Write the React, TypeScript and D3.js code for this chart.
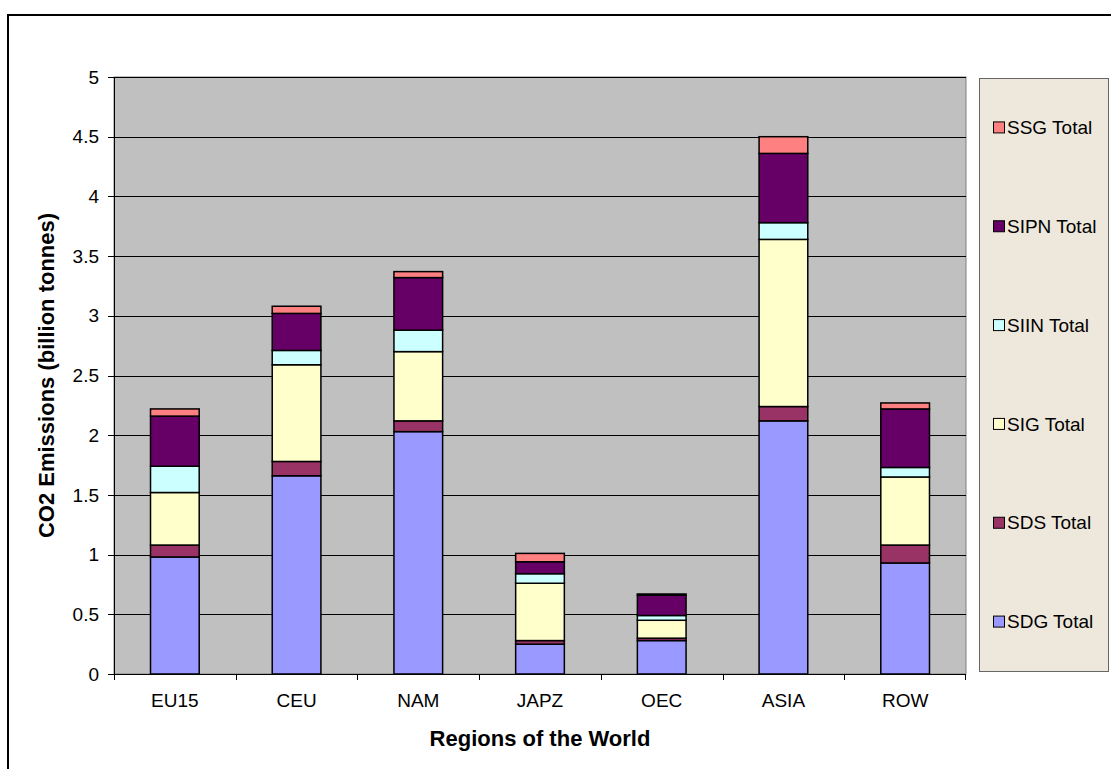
import React from 'react';
import * as d3 from 'd3';

// regions on the x axis
const regions = ['EU15', 'CEU', 'NAM', 'JAPZ', 'OEC', 'ASIA', 'ROW'];

// series values, billion tonnes (bottom to top of each stack)
const sdgTotal = [0.98, 1.66, 2.03, 0.25, 0.28, 2.12, 0.93];
const sdsTotal = [0.1, 0.12, 0.09, 0.03, 0.02, 0.12, 0.15];
const sigTotal = [0.44, 0.81, 0.58, 0.48, 0.15, 1.4, 0.57];
const siinTotal = [0.22, 0.12, 0.18, 0.08, 0.04, 0.14, 0.08];
const sipnTotal = [0.42, 0.31, 0.44, 0.1, 0.17, 0.58, 0.49];
const ssgTotal = [0.06, 0.06, 0.05, 0.07, 0.01, 0.14, 0.05];

const seriesNames = ['SDG Total', 'SDS Total', 'SIG Total', 'SIIN Total', 'SIPN Total', 'SSG Total'];
const seriesValues = [sdgTotal, sdsTotal, sigTotal, siinTotal, sipnTotal, ssgTotal];
const seriesColors = ['#9999ff', '#993366', '#ffffcc', '#ccffff', '#660066', '#ff8080'];

const yTicks = [0, 0.5, 1, 1.5, 2, 2.5, 3, 3.5, 4, 4.5, 5];

const font = 'Liberation Sans, Arial, sans-serif';

export default function App() {
  const plot = { left: 114, top: 77, right: 966, bottom: 674 };

  const x = d3
    .scaleBand()
    .domain(regions)
    .range([plot.left, plot.right])
    .paddingInner(0.6)
    .paddingOuter(0.3);
  const step = x.step();

  const y = d3.scaleLinear().domain([0, 5]).range([plot.bottom, plot.top]);

  // table for the stack
  const table = regions.map((r, i) => {
    const row: any = { region: r };
    seriesNames.forEach((s, j) => (row[s] = seriesValues[j][i]));
    return row;
  });
  const stacked = d3.stack().keys(seriesNames)(table);

  const legend = { x: 979, y: 78, w: 129, h: 593 };
  const slot = legend.h / seriesNames.length;
  const legendOrder = seriesNames.slice().reverse();

  return (
    <svg
      width={1111}
      height={769}
      style={{ position: 'absolute', left: 0, top: 0, background: '#fff' }}
      fontFamily={font}
    >
      {/* chart border */}
      <rect x={8} y={15} width={1200} height={1000} fill="#fff" stroke="#000" strokeWidth={2} />

      {/* plot area */}
      <rect
        x={plot.left}
        y={plot.top}
        width={plot.right - plot.left}
        height={plot.bottom - plot.top}
        fill="#c0c0c0"
        stroke="#808080"
        strokeWidth={1}
      />
      {yTicks.slice(1).map((t) => (
        <line
          key={'g' + t}
          x1={plot.left}
          x2={plot.right}
          y1={Math.round(y(t)) + 0.5}
          y2={Math.round(y(t)) + 0.5}
          stroke="#000"
          strokeWidth={1}
        />
      ))}

      {/* bars */}
      {stacked.map((layer, j) => (
        <g key={layer.key} fill={seriesColors[j]} stroke="#000" strokeWidth={1.5}>
          {layer.map((d, i) => (
            <rect
              key={regions[i]}
              x={x(regions[i])}
              y={y(d[1])}
              width={x.bandwidth()}
              height={y(d[0]) - y(d[1])}
            />
          ))}
        </g>
      ))}

      {/* y axis */}
      <line x1={plot.left + 0.5} x2={plot.left + 0.5} y1={plot.top} y2={plot.bottom} stroke="#000" />
      {yTicks.map((t) => (
        <g key={'y' + t}>
          <line
            x1={plot.left - 6}
            x2={plot.left}
            y1={Math.round(y(t)) + 0.5}
            y2={Math.round(y(t)) + 0.5}
            stroke="#000"
          />
          <text x={99} y={y(t)} dy="0.35em" textAnchor="end" fontSize={19} fill="#000">
            {String(t)}
          </text>
        </g>
      ))}

      {/* x axis */}
      <line x1={plot.left} x2={plot.right} y1={plot.bottom + 0.5} y2={plot.bottom + 0.5} stroke="#000" />
      {regions.map((r, i) => (
        <line
          key={'xt' + r}
          x1={Math.round(plot.left + i * step) + 0.5}
          x2={Math.round(plot.left + i * step) + 0.5}
          y1={plot.bottom}
          y2={plot.bottom + 6}
          stroke="#000"
        />
      ))}
      <line
        x1={plot.right - 0.5}
        x2={plot.right - 0.5}
        y1={plot.bottom}
        y2={plot.bottom + 6}
        stroke="#000"
      />
      {regions.map((r) => (
        <text
          key={'xl' + r}
          x={(x(r) as number) + x.bandwidth() / 2}
          y={707}
          textAnchor="middle"
          fontSize={19}
          fill="#000"
        >
          {r}
        </text>
      ))}

      {/* axis titles */}
      <text
        x={(plot.left + plot.right) / 2}
        y={746}
        textAnchor="middle"
        fontSize={22}
        fontWeight="bold"
        fill="#000"
      >
        Regions of the World
      </text>
      <text
        transform={`translate(54,${(plot.top + plot.bottom) / 2}) rotate(-90)`}
        textAnchor="middle"
        fontSize={22}
        fontWeight="bold"
        fill="#000"
      >
        CO2 Emissions (billion tonnes)
      </text>

      {/* legend */}
      <rect
        x={legend.x + 0.5}
        y={legend.y + 0.5}
        width={legend.w}
        height={legend.h}
        fill="#eee8dc"
        stroke="#666"
        strokeWidth={1}
      />
      {legendOrder.map((name, k) => {
        const cy = legend.y + slot * (k + 0.5);
        const color = seriesColors[seriesNames.indexOf(name)];
        return (
          <g key={name}>
            <rect x={993.5} y={cy - 5.5} width={11} height={11} fill={color} stroke="#000" strokeWidth={1} />
            <text x={1007} y={cy} dy="0.35em" fontSize={19} fill="#000">
              {name}
            </text>
          </g>
        );
      })}
    </svg>
  );
}
